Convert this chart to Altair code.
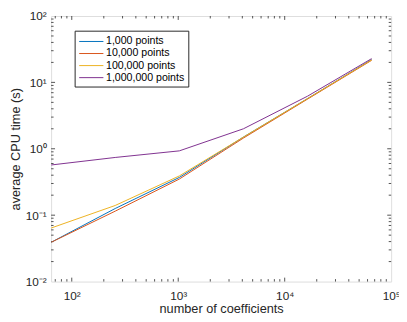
import altair as alt
import pandas as pd

coeffs = [64, 256, 1024, 4096, 16384, 65536]
t_1k = [0.039, 0.126, 0.37, 1.50, 5.7, 22.0]
t_10k = [0.039, 0.115, 0.35, 1.45, 5.6, 21.5]
t_100k = [0.064, 0.140, 0.39, 1.50, 5.7, 21.8]
t_1m = [0.57, 0.74, 0.93, 2.00, 6.2, 22.8]
series_names = ["1,000 points", "10,000 points", "100,000 points", "1,000,000 points"]
series_colors = ["#0072BD", "#D95319", "#EDB120", "#7E2F8E"]

x_major = [100, 1000, 10000, 100000]
y_major = [0.01, 0.1, 1, 10, 100]
x_minor = [m * 10 ** d for d in range(1, 5) for m in range(2, 10) if 64 <= m * 10 ** d <= 100000]
y_minor = [m * 10.0 ** d for d in range(-2, 2) for m in range(2, 10)]

rows = []
for name, vals in zip(series_names, [t_1k, t_10k, t_100k, t_1m]):
    for c, v in zip(coeffs, vals):
        rows.append({"coeffs": c, "time": v, "series": name})
df = pd.DataFrame(rows)

W, H = 347, 271
FONT = "Liberation Sans"
AX = "#262626"

xscale = alt.Scale(type="log", domain=[64, 100000], nice=False)
yscale = alt.Scale(type="log", domain=[0.01, 100], nice=False)

x_label_expr = ("datum.value < 500 ? '10²' : datum.value < 5000 ? '10³' : "
                "datum.value < 50000 ? '10⁴' : '10⁵'")
y_label_expr = ("datum.value < 0.05 ? '10⁻²' : datum.value < 0.5 ? '10⁻¹' : "
                "datum.value < 5 ? '10⁰' : datum.value < 50 ? '10¹' : '10²'")

lines = alt.Chart(df).mark_line(strokeWidth=1, clip=True).encode(
    x=alt.X("coeffs:Q", scale=xscale,
            axis=alt.Axis(values=x_major, labelExpr=x_label_expr, title="number of coefficients",
                          ticks=False, grid=False, domain=False, labelPadding=9,
                          labelFontSize=12, titleFontSize=13, titleFontWeight="normal",
                          titlePadding=2, labelFlush=False, labelColor=AX, titleColor=AX,
                          labelFont=FONT, titleFont=FONT)),
    y=alt.Y("time:Q", scale=yscale,
            axis=alt.Axis(values=y_major, labelExpr=y_label_expr, title="average CPU time (s)",
                          ticks=False, grid=False, domain=False, labelPadding=5,
                          labelFontSize=12, titleFontSize=13, titleFontWeight="normal",
                          titlePadding=3, labelFlush=False, labelColor=AX, titleColor=AX,
                          labelFont=FONT, titleFont=FONT)),
    color=alt.Color("series:N", sort=series_names,
                    scale=alt.Scale(domain=series_names, range=series_colors),
                    legend=alt.Legend(title=None, orient="none", legendX=24, legendY=15,
                                      symbolType="M-1.9,0L1.9,0", symbolSize=169,
                                      symbolStrokeWidth=1, symbolOffset=6,
                                      labelFontSize=10.8, labelFont=FONT, labelColor="#000000",
                                      labelOffset=8, rowPadding=0.3,
                                      fillColor="white", strokeColor="#262626",
                                      padding=4)),
    order=alt.Order("coeffs:Q"),
)

def tick_layer(vals, axis_ch, side, length):
    d = pd.DataFrame({"v": vals})
    base = alt.Chart(d).mark_rule(color=AX, strokeWidth=0.8)
    if axis_ch == "x":
        if side == "bottom":
            return base.encode(x=alt.X("v:Q", scale=xscale), y=alt.value(H), y2=alt.value(H - length))
        return base.encode(x=alt.X("v:Q", scale=xscale), y=alt.value(0), y2=alt.value(length))
    if side == "left":
        return base.encode(y=alt.Y("v:Q", scale=yscale), x=alt.value(0), x2=alt.value(length))
    return base.encode(y=alt.Y("v:Q", scale=yscale), x=alt.value(W), x2=alt.value(W - length))

ticks = []
for side in ["bottom", "top"]:
    ticks.append(tick_layer(x_major[:-1], "x", side, 4))
    ticks.append(tick_layer(x_minor, "x", side, 2.5))
for side in ["left", "right"]:
    ticks.append(tick_layer(y_major[1:-1], "y", side, 4))
    ticks.append(tick_layer(y_minor, "y", side, 2.5))

chart = alt.layer(*ticks, lines).properties(
    width=W, height=H,
    autosize=alt.AutoSizeParams(type="none"),
    padding={"left": 44, "top": 5, "right": 8, "bottom": 33},
).configure_view(stroke=AX, strokeWidth=1).configure(background="white")

chart.save("out.html", embed_options={"renderer": "svg", "actions": False})
